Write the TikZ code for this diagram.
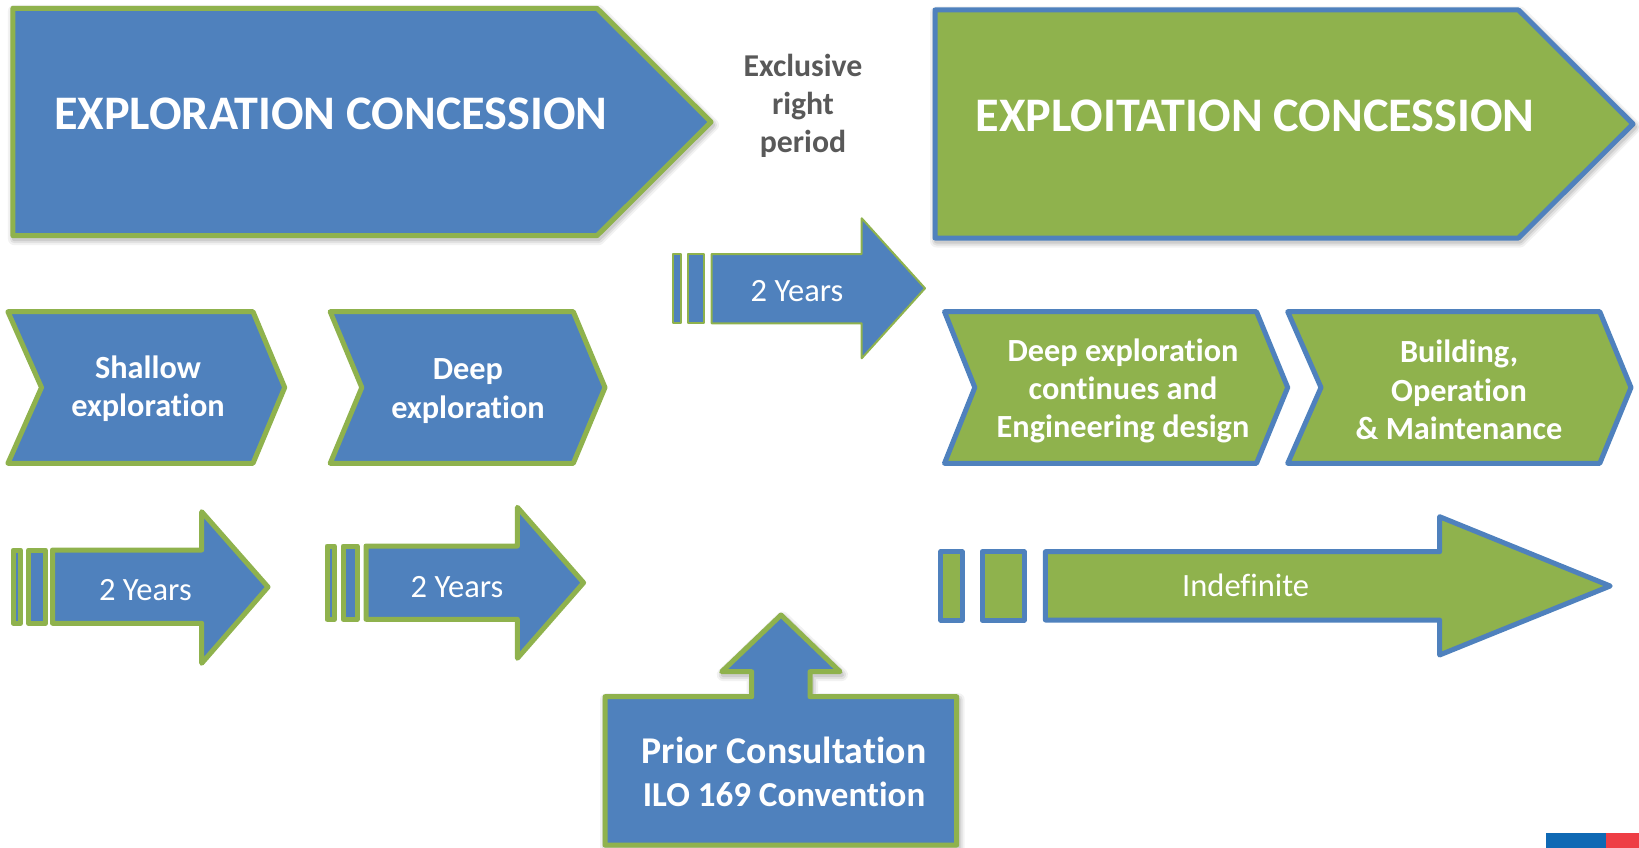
\documentclass[tikz,border=0pt]{standalone}
\usepackage{fontspec}
\setmainfont{Carlito}[Ligatures={NoCommon,NoContextual}]
\definecolor{cblue}{HTML}{4F81BD}
\definecolor{cgreen}{HTML}{8FB24D}
\definecolor{cgray}{HTML}{595959}
\definecolor{flagblue}{HTML}{0F69B4}
\definecolor{flagred}{HTML}{EE3E45}
\begin{document}
\begin{tikzpicture}[x=1pt,y=-1pt,line join=round,
  bshape/.style={fill=cblue,draw=cgreen,line width=5pt},
  gshape/.style={fill=cgreen,draw=cblue,line width=5pt},
  thinb/.style={fill=cblue,draw=cgreen,line width=2pt},
  softshadow/.style={
    preaction={draw=black,draw opacity=0.05,line width=13pt,transform canvas={xshift=1.5pt,yshift=-3pt}},
    preaction={draw=black,draw opacity=0.07,line width=9pt,transform canvas={xshift=1.5pt,yshift=-3pt}},
    preaction={draw=black,draw opacity=0.09,line width=5pt,transform canvas={xshift=1.5pt,yshift=-3pt}}},
  titletxt/.style={text=white,inner sep=0pt,font=\fontsize{48.2}{56}\selectfont\bfseries},
  lbl/.style={text=white,inner sep=0pt,align=center,font=\fontsize{32.3}{38.3}\selectfont\bfseries},
  yrs/.style={text=white,inner sep=0pt,font=\fontsize{32.5}{37}\selectfont},
  excltxt/.style={text=cgray,inner sep=0pt,align=center,font=\fontsize{31.8}{37.8}\selectfont\bfseries},
  priortxt/.style={text=white,inner sep=0pt,align=center,font=\fontsize{37.8}{43.5}\selectfont\bfseries}]
\useasboundingbox (0,0) rectangle (1639,848);
% big pentagons
\draw[bshape,softshadow] (12.9,8.3) -- (597,8.3) -- (711,122) -- (597,235.7) -- (12.9,235.7) -- cycle;
\draw[gshape,softshadow] (935,10) -- (1518.5,10) -- (1633,124) -- (1518.5,238) -- (935,238) -- cycle;
% middle arrow
\draw[thinb] (673,254) rectangle (681,323.3);
\draw[thinb] (688,254) rectangle (704,323.3);
\draw[thinb] (711.7,254) -- (861.7,254) -- (861.7,218.3) -- (925,288.3) -- (861.7,358.3) -- (861.7,323.3) -- (711.7,323.3) -- cycle;
% chevrons
\draw[bshape] (7.9,311.7) -- (253,311.7) -- (284.7,387.5) -- (253,463.3) -- (7.9,463.3) -- (41.5,387.5) -- cycle;
\draw[bshape] (330.2,311.7) -- (573.3,311.7) -- (605,387.5) -- (573.3,463.3) -- (330.2,463.3) -- (361.8,387.5) -- cycle;
\draw[gshape] (944.5,311.7) -- (1256.5,311.7) -- (1287.7,387.5) -- (1256.5,463.3) -- (944.5,463.3) -- (974.8,387.5) -- cycle;
\draw[gshape] (1287.7,311.7) -- (1599.8,311.7) -- (1631,387.5) -- (1599.8,463.3) -- (1287.7,463.3) -- (1321,387.5) -- cycle;
% bottom left arrows
\draw[bshape] (13.2,550) rectangle (20.5,623.3);
\draw[bshape] (28.5,550) rectangle (45.3,623.3);
\draw[bshape] (52.5,550) -- (201.7,550) -- (201.7,511.7) -- (268,587) -- (201.7,663.3) -- (201.7,623.3) -- (52.5,623.3) -- cycle;
\draw[bshape] (327,546) rectangle (334.3,619.3);
\draw[bshape] (343.1,546) rectangle (357.2,619.3);
\draw[bshape] (366,546) -- (517.4,546) -- (517.4,507.3) -- (583.6,582.7) -- (517.4,658.3) -- (517.4,619.3) -- (366,619.3) -- cycle;
% indefinite arrow
\draw[gshape] (940.8,551.7) rectangle (962,620);
\draw[gshape] (982.1,551.7) rectangle (1024,620);
\draw[gshape] (1045.4,551.7) -- (1439.6,551.7) -- (1439.6,516.7) -- (1610.2,586) -- (1439.6,655) -- (1439.6,620) -- (1045.4,620) -- cycle;
% prior consultation
\draw[bshape,softshadow] (605,696.7) -- (751.7,696.7) -- (751.7,671.7) -- (721.7,671.7) -- (781,615) -- (840,671.7) -- (810,671.7) -- (810,696.7) -- (956.7,696.7) -- (956.7,845) -- (605,845) -- cycle;
% flag
\fill[flagblue] (1546,832.7) rectangle (1606,848);
\fill[flagred] (1606,832.7) rectangle (1639,848);
% texts
\node[titletxt,anchor=base] (t1) at (330.7,129.8) {EXPLORATION CONCESSION};
\node[titletxt,anchor=base] (t2) at (1255,132) {EXPLOITATION CONCESSION};
\node[excltxt] (excl) at (803,106) {Exclusive\\right\\period};
\node[yrs,anchor=base] (y1) at (797,301.7) {2 Years};
\node[yrs,anchor=base] (y2) at (145.4,600) {2 Years};
\node[yrs,anchor=base] (y3) at (457,597) {2 Years};
\node[yrs,anchor=base] (y4) at (1245.6,596.7) {Indefinite};
\node[lbl] (c1) at (148,388.5) {Shallow\\exploration};
\node[lbl] (c2) at (468,391) {Deep\\exploration};
\node[lbl] (c3) at (1123,391) {Deep exploration\\continues and\\Engineering design};
\node[lbl] (c4) at (1459,390) {Building,\\Operation\\\& Maintenance};
\node[priortxt] (p) at (784,772) {Prior Consultation\\{\fontsize{35}{43.5}\selectfont ILO 169 Convention}};
\end{tikzpicture}
\end{document}
